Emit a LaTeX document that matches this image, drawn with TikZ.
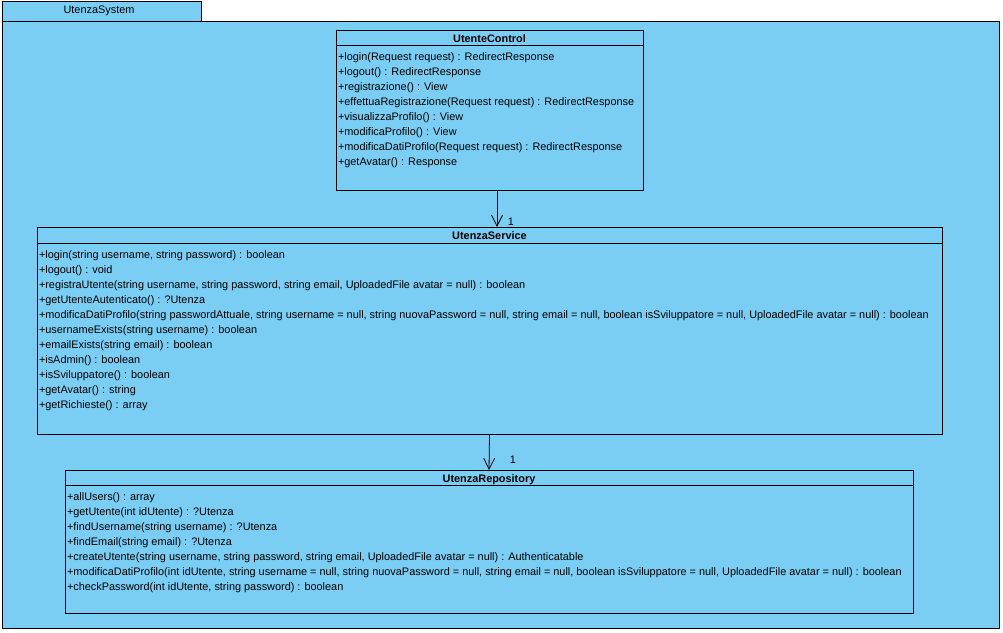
\documentclass[tikz,border=0pt]{standalone}
\usepackage{fontspec}
\setmainfont{Liberation Sans}
\usetikzlibrary{arrows.meta,calc,positioning}
\definecolor{vpblue}{RGB}{122,206,244}

\begin{document}
\begin{tikzpicture}[x=1pt,y=-1pt,
  every node/.style={font=\fontsize{10.9}{15}\selectfont,inner sep=0pt,outer sep=0pt},
  pkg/.style={draw,fill=vpblue,line width=0.8pt},
  classbox/.style={draw,fill=vpblue,line width=0.8pt,rectangle,anchor=north west},
  classname/.style={font=\fontsize{10.9}{15}\selectfont\bfseries,anchor=base},
  op/.style={anchor=base west},
  assoc/.style={-{Straight Barb[length=11pt,width=11pt]},line width=0.8pt},
  mult/.style={anchor=center}]

        \useasboundingbox (0,0) rectangle (1003,632);

        % package
        \draw[pkg] (2,1) rectangle (201,21);
        \draw[pkg] (2,21) rectangle (999,628);
        \node (P) at (99,11) {UtenzaSystem};

        % classes
        \node[classbox,minimum width=307pt,minimum height=160pt] (ctrl) at (336,30) {};
        \node[classbox,minimum width=905pt,minimum height=207pt] (svc) at (37,227) {};
        \node[classbox,minimum width=848pt,minimum height=143pt] (repo) at (65,470) {};

        \node[classname] (ctrlT) at ($(ctrl.north)+(0,12)$) {UtenteControl};
        \node[classname] (svcT) at ($(svc.north)+(0,12.5)$) {UtenzaService};
        \node[classname] (repoT) at ($(repo.north)+(0,12.5)$) {UtenzaRepository};

        \draw[line width=0.8pt] ($(ctrl.north west)+(0,15.5)$) -- ($(ctrl.north east)+(0,15.5)$);
        \draw[line width=0.8pt] ($(svc.north west)+(0,16)$) -- ($(svc.north east)+(0,16)$);
        \draw[line width=0.8pt] ($(repo.north west)+(0,15.5)$) -- ($(repo.north east)+(0,15.5)$);

        \foreach \m [count=\i from 0] in {{+login(Request request) : RedirectResponse},
            {+logout() : RedirectResponse},
            {+registrazione() : View},
            {+effettuaRegistrazione(Request request) : RedirectResponse},
            {+visualizzaProfilo() : View},
            {+modificaProfilo() : View},
            {+modificaDatiProfilo(Request request) : RedirectResponse},
            {+getAvatar() : Response}}
          \node[op] (ctrl\i) at ($(ctrl.north west)+(2,30+15*\i)$) {\m};

        \foreach \m [count=\i from 0] in {{+login(string username, string password) : boolean},
            {+logout() : void},
            {+registraUtente(string username, string password, string email, UploadedFile avatar = null) : boolean},
            {+getUtenteAutenticato() : ?Utenza},
            {+modificaDatiProfilo(string passwordAttuale, string username = null, string nuovaPassword = null, string email = null, boolean isSviluppatore = null, UploadedFile avatar = null) : boolean},
            {+usernameExists(string username) : boolean},
            {+emailExists(string email) : boolean},
            {+isAdmin() : boolean},
            {+isSviluppatore() : boolean},
            {+getAvatar() : string},
            {+getRichieste() : array}}
          \node[op] (svc\i) at ($(svc.north west)+(2,31+15*\i)$) {\m};

        \foreach \m [count=\i from 0] in {{+allUsers() : array},
            {+getUtente(int idUtente) : ?Utenza},
            {+findUsername(string username) : ?Utenza},
            {+findEmail(string email) : ?Utenza},
            {+createUtente(string username, string password, string email, UploadedFile avatar = null) : Authenticatable},
            {+modificaDatiProfilo(int idUtente, string username = null, string nuovaPassword = null, string email = null, boolean isSviluppatore = null, UploadedFile avatar = null) : boolean},
            {+checkPassword(int idUtente, string password) : boolean}}
          \node[op] (repo\i) at ($(repo.north west)+(2,30+15*\i)$) {\m};

        % associations
        \draw[assoc] ([xshift=7.5pt]ctrl.south) -- ([xshift=7.5pt]svc.north)
          node[mult,pos=1,xshift=14pt,yshift=5pt] (m1) {1};
        \draw[assoc] (svc.south) -- (repo.north)
          node[mult,pos=1,xshift=24pt,yshift=10pt] (m2) {1};
      \end{tikzpicture}
\end{document}
